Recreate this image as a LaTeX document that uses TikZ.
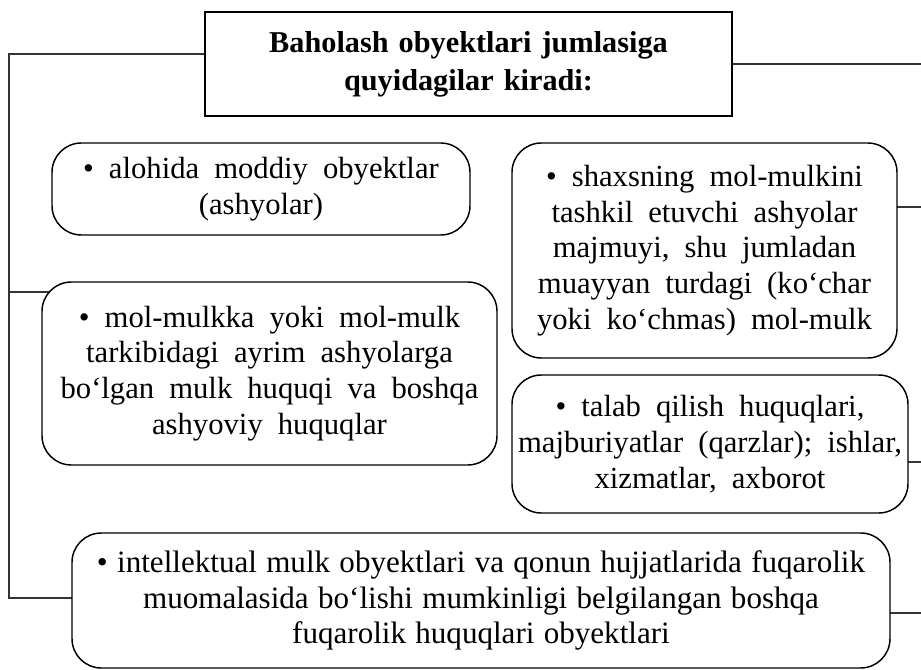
\documentclass[tikz,border=0pt]{standalone}
\usepackage{fontspec}
\setmainfont{Liberation Serif}
\pgfdeclarelayer{bg}
\pgfsetlayers{bg,main}
\newcommand{\bodyfont}{\fontsize{23pt}{26.8pt}\selectfont}
\newcommand{\wideskip}{\spaceskip=0.49em\relax}
\newcommand{\plainskip}{\spaceskip=0.3em\relax}
\newcommand{\headfont}{\bfseries\fontsize{22.7pt}{28.5pt}\selectfont}
\tikzset{
  headbox/.style={draw=black, line width=1.4pt, fill=white, inner sep=0pt, align=center, font=\headfont},
  itembox/.style={draw=black, line width=1.1pt, fill=white, rounded corners=22pt, inner sep=0pt,
    align=center, font=\bodyfont, execute at begin node=\wideskip},
  widebox/.style={itembox, font=\fontsize{23.3pt}{26.8pt}\selectfont, execute at begin node=\plainskip},
  link/.style={draw=black!80, line width=0.8pt}
}
\begin{document}
\begin{tikzpicture}[x=0.75pt, y=-0.75pt]
\useasboundingbox (0,0) rectangle (921,670);

% heading
\node[headbox, minimum width=395.25pt, minimum height=78pt, text width=390pt] (title) at (468.5,64)
  {Baholash obyektlari jumlasiga\\quyidagilar kiradi:};

% item boxes
\node[itembox, minimum width=313.5pt, minimum height=69pt, text width=311pt] (b1) at (261,189)
  {• alohida moddiy obyektlar\\(ashyolar)};
\node[itembox, minimum width=288.75pt, minimum height=161.25pt, text width=286pt] (b2) at (704.5,250.5)
  {• shaxsning mol-mulkini\\tashkil etuvchi ashyolar\\majmuyi, shu jumladan\\muayyan turdagi (ko‘char\\yoki ko‘chmas) mol-mulk};
\node[itembox, minimum width=297pt, minimum height=103.5pt, text width=295pt] (b3) at (710,444)
  {• talab qilish huquqlari,\\majburiyatlar (qarzlar); ishlar,\\xizmatlar, axborot};
\node[itembox, minimum width=341.25pt, minimum height=137.25pt, text width=339pt] (b4) at (269.5,373.5)
  {• mol-mulkka yoki mol-mulk\\tarkibidagi ayrim ashyolarga\\bo‘lgan mulk huquqi va boshqa\\ashyoviy huquqlar};
\node[widebox, minimum width=613.5pt, minimum height=101.25pt, text width=611pt] (b5) at (481,600.5)
  {• intellektual mulk obyektlari va qonun hujjatlarida fuqarolik\\muomalasida bo‘lishi mumkinligi belgilangan boshqa\\fuqarolik huquqlari obyektlari};

% connector end points
\coordinate (l1) at (9,54);
\coordinate (l2) at (9,292);
\coordinate (l3) at (9,598);
\coordinate (r1) at (921,64);
\coordinate (r2) at (921,207);
\coordinate (r3) at (921,462);
\coordinate (r4) at (921,613);

\begin{pgfonlayer}{bg}
  \draw[link] (title.west |- l1) -- (l1) -- (l3) -- (b5.center |- l3);
  \draw[link] (l2) -- (b4.center |- l2);
  \draw[link] (title.east |- r1) -- (r1);
  \draw[link] (b2.center |- r2) -- (r2);
  \draw[link] (b3.center |- r3) -- (r3);
  \draw[link] (b5.center |- r4) -- (r4);
\end{pgfonlayer}
\end{tikzpicture}
\end{document}
